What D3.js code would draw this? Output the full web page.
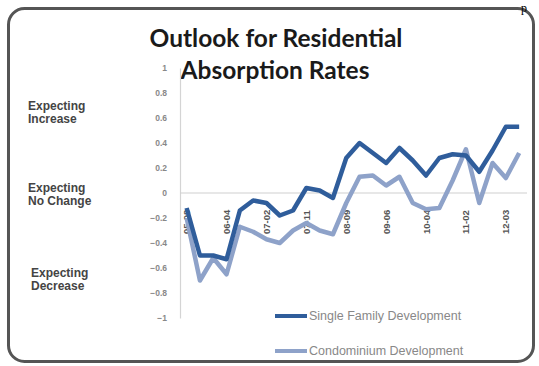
<!DOCTYPE html>
<html><head><meta charset="utf-8">
<script src="https://cdn.jsdelivr.net/npm/d3@7"></script>
<style>html,body{margin:0;padding:0;background:#fff;}svg{display:block;}</style>
</head><body>
<svg id="c" width="539" height="366"></svg>
<script>
// ---- data ----
const titleLines = ["Outlook for Residential", "Absorption Rates"];
const periodCount = 26;
const tickLabels = ["05-08","06-04","07-02","07-11","08-09","09-06","10-04","11-02","12-03"];
const tickEvery = 3;
const singleFamily = [-0.12,-0.50,-0.50,-0.53,-0.14,-0.06,-0.08,-0.18,-0.14,0.04,0.02,-0.04,0.28,0.40,0.32,0.24,0.36,0.26,0.14,0.28,0.31,0.30,0.17,0.34,0.53,0.53];
const condominium = [-0.20,-0.70,-0.52,-0.65,-0.27,-0.31,-0.37,-0.40,-0.30,-0.24,-0.30,-0.33,-0.08,0.13,0.14,0.06,0.13,-0.08,-0.13,-0.12,0.10,0.35,-0.08,0.24,0.12,0.32];
const yTicks = [1,0.8,0.6,0.4,0.2,0,-0.2,-0.4,-0.6,-0.8,-1];
const seriesNames = ["Single Family Development","Condominium Development"];
const seriesColors = ["#2f5d9b","#8ea2c9"];
const sideLabels = [["Expecting","Increase"],["Expecting","No Change"],["Expecting","Decrease"]];

const svg = d3.select("#c");

// frame
svg.append("rect").attr("x",8.5).attr("y",8.5).attr("width",525).attr("height",353)
  .attr("rx",16).attr("fill","#fff").attr("stroke","#555").attr("stroke-width",3);
svg.append("text").attr("x",521).attr("y",12).attr("font-family","Liberation Serif")
  .attr("font-size",12).attr("fill","#000").text("p");

// scales
const x = d3.scaleBand().domain(d3.range(periodCount)).range([180, 180 + 13.3*periodCount]);
const y = d3.scaleLinear().domain([-1, 1]).range([318, 68]);
const cx = i => x(i) + x.bandwidth()/2;

// title
const tl = svg.append("g").attr("font-family","Lato, 'Liberation Sans', sans-serif")
  .attr("font-weight","bold").attr("fill","#1a1a1a").attr("text-anchor","middle");
tl.append("text").attr("x",276).attr("y",47).attr("font-size",24.5).text(titleLines[0]);
tl.append("text").attr("x",275).attr("y",79).attr("font-size",24.5).text(titleLines[1]);

// y axis
const yAxis = d3.axisLeft(y).tickValues(yTicks).tickSize(0).tickPadding(13)
  .tickFormat(d => d3.format("")(+d.toFixed(1)));
const ya = svg.append("g").attr("transform","translate(180,0)").call(yAxis);
ya.select(".domain").attr("stroke","#d4d4d4").attr("stroke-width",1.2);
ya.selectAll("text").attr("font-family","'Liberation Sans', sans-serif").attr("font-size",8.5)
  .attr("font-weight","bold").attr("fill","#888");

// zero line
svg.append("line").attr("x1",180).attr("x2",527).attr("y1",y(0)).attr("y2",y(0))
  .attr("stroke","#cfcfcf").attr("stroke-width",1.2);

// x tick labels (rotated)
const xg = svg.append("g");
tickLabels.forEach((t,k) => {
  const i = k*tickEvery;
  xg.append("text").attr("transform",`translate(${cx(i)+3.5},234) rotate(-90)`)
    .attr("font-family","'Liberation Sans', sans-serif").attr("font-weight","bold")
    .attr("font-size",9.5).attr("fill","#555").text(t);
});

// lines
const line = d3.line().x((d,i)=>cx(i)).y(d=>y(d)).curve(d3.curveLinear);
[condominium, singleFamily].forEach((s,k) => {
  svg.append("path").datum(s).attr("d",line).attr("fill","none")
    .attr("stroke", seriesColors[1-k]).attr("stroke-width",4.5)
    .attr("stroke-linejoin","round").attr("stroke-linecap","butt");
});

// side labels
const sl = svg.append("g").attr("font-family","'Liberation Sans', sans-serif")
  .attr("font-weight","bold").attr("font-size",12).attr("fill","#444");
const sidePos = [[28,110],[28,192],[31,277]];
sideLabels.forEach((lab,k)=>{
  lab.forEach((t,j)=> sl.append("text").attr("x",sidePos[k][0]).attr("y",sidePos[k][1]+j*13).text(t));
});

// legend
const lg = svg.append("g");
[316,351].forEach((ly,k)=>{
  lg.append("line").attr("x1",275).attr("x2",307).attr("y1",ly).attr("y2",ly)
    .attr("stroke",seriesColors[k]).attr("stroke-width",4);
  lg.append("text").attr("x",309).attr("y",ly+4).attr("font-family","'Liberation Sans', sans-serif")
    .attr("font-size",12.5).attr("fill","#888").text(seriesNames[k]);
});
</script>
</body></html>
